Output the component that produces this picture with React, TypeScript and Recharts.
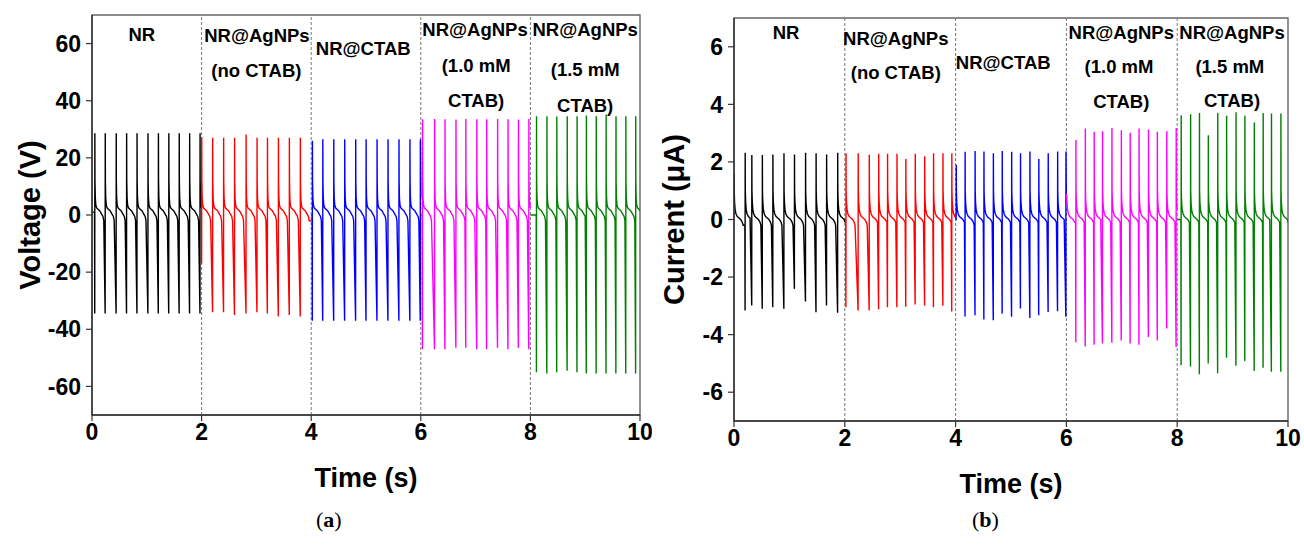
import React from 'react';
import { LineChart, Line, XAxis, YAxis, ReferenceLine, ReferenceArea, ReferenceDot, Label } from 'recharts';

const FONT = '"Liberation Sans", Arial, Helvetica, sans-serif';

const segBounds = [0, 2, 4, 6, 8, 10];
const segColors = ['#000000', '#ff0000', '#0000ff', '#ff00ff', '#008000'];
const timeTicks = [0, 2, 4, 6, 8, 10];
const dividers = [2, 4, 6, 8];

// (a) voltage
const voltTicks = [-60, -40, -20, 0, 20, 40, 60];
const voltStart = [1, 0, 0, 0, 0];
const voltSpikeTimes = [
  [0.05, 0.24, 0.44, 0.63, 0.82, 1.02, 1.21, 1.4, 1.59, 1.78, 1.97],
  [2.0, 2.2, 2.4, 2.6, 2.81, 3.01, 3.2, 3.4, 3.6, 3.8],
  [4.02, 4.21, 4.41, 4.61, 4.81, 5.0, 5.2, 5.4, 5.6, 5.8, 5.99],
  [6.03, 6.25, 6.44, 6.64, 6.82, 7.02, 7.2, 7.4, 7.59, 7.78, 7.97],
  [8.11, 8.3, 8.48, 8.67, 8.85, 9.02, 9.2, 9.38, 9.56, 9.74, 9.92],
];
const voltPeaks = [
  [28.6, 28.6, 28.6, 28.6, 28.6, 28.6, 28.6, 28.6, 28.6, 28.6, 28.6],
  [27.2, 27, 27, 27, 28.2, 27, 27, 27, 27, 27],
  [26, 26.5, 26.5, 26.5, 26.5, 26.5, 26.5, 26.5, 26.5, 26.5, 26.5],
  [33.5, 33.6, 33.5, 33.4, 33.6, 33.5, 33.5, 33.6, 33.5, 33.4, 33.6],
  [34.6, 34.6, 34.5, 34.6, 34.6, 34.8, 34.6, 35.2, 34.6, 34.6, 34.6],
];
const voltTroughs = [
  [-34.5, -34.5, -34.5, -34.5, -34.5, -34.5, -34.5, -34.5, -34.5, -34.5, -34.5],
  [-17, -34, -34, -35, -34.5, -34, -34.5, -35.5, -35, -35.5],
  [-37, -37, -37, -37, -37, -37, -37, -37, -37, -37, -37],
  [-47, -47, -47, -46.5, -46.5, -47, -47, -46.5, -47, -46.5, -47],
  [-55, -55.5, -55, -54.5, -55, -55.5, -55.5, -55.5, -55.5, -55.5, -55.5],
];
const voltTailDt = [0.004, 0.01, 0.02, 0.035, 0.06, 0.09, 0.12, 0.15, 0.165];
const voltTailV = [12, 6, 3.5, 2.5, 2, 1.5, 0.5, -0.5, -2];

// (b) current
const currTicks = [-6, -4, -2, 0, 2, 4, 6];
const currStart = [1.6, 0, 0, 0.9, 0];
const currSpikeTimes = [
  [0.2, 0.32, 0.51, 0.7, 0.9, 1.09, 1.29, 1.48, 1.67, 1.87],
  [2.02, 2.24, 2.44, 2.61, 2.77, 2.94, 3.1, 3.27, 3.44, 3.6, 3.77, 3.93],
  [4.01, 4.17, 4.35, 4.51, 4.68, 4.84, 5.01, 5.17, 5.34, 5.5, 5.67, 5.84, 5.99],
  [6.17, 6.34, 6.5, 6.65, 6.82, 6.99, 7.15, 7.31, 7.48, 7.64, 7.81, 7.98],
  [8.07, 8.24, 8.4, 8.56, 8.73, 8.89, 9.06, 9.22, 9.39, 9.55, 9.7, 9.87],
];
const currPeaks = [
  [2.32, 2.24, 2.24, 2.26, 2.3, 2.26, 2.32, 2.3, 2.26, 2.32],
  [2.3, 2.3, 2.25, 2.28, 2.28, 2.28, 2.1, 2.28, 2.2, 2.3, 2.3, 2.3],
  [1.9, 2.35, 2.38, 2.36, 2.3, 2.38, 2.35, 2.3, 2.36, 2.1, 2.3, 2.36, 2.36],
  [2.76, 3.16, 3.05, 3.07, 3.18, 3.1, 3.01, 3.16, 3.13, 3.05, 3.07, 3.18],
  [3.62, 3.66, 3.7, 2.93, 3.7, 3.6, 3.73, 3.6, 3.37, 3.7, 3.68, 3.68],
];
const currTroughs = [
  [-3.16, -2.99, -3.1, -3.05, -3.1, -2.41, -2.85, -3.22, -2.99, -3.24],
  [-3.05, -3.16, -3.16, -3.12, -3.05, -3.05, -3.03, -2.95, -3.0, -3.05, -3.0, -3.2],
  [0, -3.37, -3.33, -3.47, -3.5, -3.27, -3.38, -3.09, -3.42, -3.33, -3.21, -3.19, -3.38],
  [-4.26, -4.41, -4.35, -4.31, -4.28, -4.2, -4.31, -4.35, -4.08, -4.2, -3.79, -4.43],
  [-5.06, -5.11, -5.38, -5.0, -5.34, -4.8, -5.08, -4.92, -5.26, -5.15, -5.29, -5.29],
];
const currTailDt = [0.004, 0.01, 0.02, 0.035, 0.06, 0.09, 0.12, 0.15, 0.165];
const currTailV = [1.0, 0.6, 0.35, 0.2, 0.1, 0.05, 0, -0.1, -0.2];

const voltNotes = [
  { t: 0.91, v: 63, text: 'NR' },
  { t: 3.01, v: 62.7, text: 'NR@AgNPs' },
  { t: 3.0, v: 50.4, text: '(no CTAB)' },
  { t: 4.95, v: 58.1, text: 'NR@CTAB' },
  { t: 6.99, v: 64.8, text: 'NR@AgNPs' },
  { t: 7.01, v: 52.2, text: '(1.0 mM' },
  { t: 7.01, v: 39.9, text: 'CTAB)' },
  { t: 9.0, v: 64.8, text: 'NR@AgNPs' },
  { t: 9.0, v: 50.8, text: '(1.5 mM' },
  { t: 9.0, v: 38.2, text: 'CTAB)' },
];
const currNotes = [
  { t: 0.94, v: 6.5, text: 'NR' },
  { t: 2.92, v: 6.3, text: 'NR@AgNPs' },
  { t: 2.92, v: 5.1, text: '(no CTAB)' },
  { t: 4.86, v: 5.45, text: 'NR@CTAB' },
  { t: 6.99, v: 6.5, text: 'NR@AgNPs' },
  { t: 6.95, v: 5.3, text: '(1.0 mM' },
  { t: 6.99, v: 4.1, text: 'CTAB)' },
  { t: 8.99, v: 6.5, text: 'NR@AgNPs' },
  { t: 8.95, v: 5.3, text: '(1.5 mM' },
  { t: 8.99, v: 4.15, text: 'CTAB)' },
];

type Pt = { t: number; v: number };

// one coloured segment: start level, then for each pulse trough -> peak -> decay tail
function buildSegment(
  start: number, end: number, startVal: number,
  times: number[], peaks: number[], troughs: number[],
  tailDt: number[], tailV: number[]
): Pt[] {
  const pts: Pt[] = [{ t: start, v: startVal }];
  const first = times.length ? times[0] : end;
  let lead = startVal;
  if (startVal > 0) {
    tailDt.forEach((dt, j) => {
      if (start + dt < first - 0.008 && tailV[j] < startVal) {
        pts.push({ t: start + dt, v: tailV[j] });
        lead = tailV[j];
      }
    });
  }
  if (first - start > 0.012) pts.push({ t: first - 0.004, v: lead });
  times.forEach((t, i) => {
    const next = i < times.length - 1 ? times[i + 1] : end;
    pts.push({ t, v: troughs[i] });
    pts.push({ t: t + 0.002, v: peaks[i] });
    tailDt.forEach((dt, j) => {
      if (t + dt < next - 0.008) pts.push({ t: t + dt, v: tailV[j] });
    });
  });
  const last = times.length ? times[times.length - 1] : start;
  const k = tailDt.findIndex((dt) => dt >= end - last);
  pts.push({ t: end, v: k >= 0 ? tailV[k] : tailV[tailV.length - 1] });
  return pts;
}

const voltSegments = segColors.map((_, i) =>
  buildSegment(segBounds[i], segBounds[i + 1], voltStart[i], voltSpikeTimes[i], voltPeaks[i], voltTroughs[i], voltTailDt, voltTailV)
);
const currSegments = segColors.map((_, i) =>
  buildSegment(segBounds[i], segBounds[i + 1], currStart[i], currSpikeTimes[i], currPeaks[i], currTroughs[i], currTailDt, currTailV)
);

const tickStyle = { fontSize: 23, fontWeight: 'bold' as const, fill: '#000', fontFamily: FONT };
const titleStyle = { fontSize: 27, fontWeight: 'bold' as const, fill: '#000', fontFamily: FONT, textAnchor: 'middle' as const };
const yTitleStyle = { ...titleStyle, fontSize: 29 };

const NoteText = (text: string) => (p: any) => (
  <text
    x={p.cx}
    y={p.cy}
    dy="0.35em"
    textAnchor="middle"
    fontFamily={FONT}
    fontWeight="bold"
    fontSize={18.5}
    fill="#000"
  >
    {text}
  </text>
);

interface PanelProps {
  width: number;
  height: number;
  margin: { top: number; right: number; left: number; bottom: number };
  yWidth: number;
  yDomain: [number, number];
  yTicks: number[];
  yLabel: string;
  yLabelOffset: number;
  segments: Pt[][];
  notes: { t: number; v: number; text: string }[];
}

const Panel: React.FC<PanelProps> = ({ width, height, margin, yWidth, yDomain, yTicks, yLabel, yLabelOffset, segments, notes }) => {
  return (
    <LineChart width={width} height={height} margin={margin}>
      <XAxis
        dataKey="t"
        type="number"
        domain={[0, 10]}
        ticks={timeTicks}
        interval={0}
        allowDataOverflow
        height={82}
        tickSize={6}
        tickMargin={3}
        tick={tickStyle}
        axisLine={{ stroke: '#333', strokeWidth: 1.5 }}
        tickLine={{ stroke: '#333', strokeWidth: 1.2 }}
      >
        <Label value="Time (s)" position="insideBottom" offset={10} style={titleStyle} />
      </XAxis>
      <YAxis
        type="number"
        domain={yDomain}
        ticks={yTicks}
        interval={0}
        allowDataOverflow
        width={yWidth}
        tickSize={6}
        tickMargin={5}
        tick={tickStyle}
        axisLine={{ stroke: '#333', strokeWidth: 1.5 }}
        tickLine={{ stroke: '#333', strokeWidth: 1.2 }}
      >
        <Label value={yLabel} angle={-90} position="insideLeft" offset={yLabelOffset} style={yTitleStyle} />
      </YAxis>
      <ReferenceArea x1={0} x2={10} y1={yDomain[0]} y2={yDomain[1]} fill="none" fillOpacity={0} stroke="#666" strokeWidth={1.4} />
      {dividers.map((x) => (
        <ReferenceLine key={x} x={x} stroke="#777" strokeDasharray="3 2" strokeWidth={1} />
      ))}
      {segments.map((seg, i) => (
        <Line
          key={i}
          data={seg}
          dataKey="v"
          type="linear"
          stroke={segColors[i]}
          strokeWidth={1.4}
          dot={false}
          activeDot={false}
          isAnimationActive={false}
        />
      ))}
      {notes.map((n, i) => (
        <ReferenceDot key={i} x={n.t} y={n.v} r={0} shape={NoteText(n.text)} />
      ))}
    </LineChart>
  );
};

const Caption: React.FC<{ letter: string; left: number }> = ({ letter, left }) => (
  <div
    style={{
      position: 'absolute',
      left,
      top: 507,
      fontFamily: '"Liberation Serif", "Times New Roman", serif',
      fontSize: 22,
      color: '#000',
    }}
  >
    (<b>{letter}</b>)
  </div>
);

export default function App() {
  return (
    <div style={{ position: 'absolute', left: 0, top: 0, width: 1304, height: 545, background: '#fff', overflow: 'hidden' }}>
      <div style={{ position: 'absolute', left: 0, top: 0 }}>
        <Panel
          width={652}
          height={497}
          margin={{ top: 15, right: 12, left: 0, bottom: 0 }}
          yWidth={92}
          yDomain={[-70, 70]}
          yTicks={voltTicks}
          yLabel="Voltage (V)"
          yLabelOffset={30}
          segments={voltSegments}
          notes={voltNotes}
        />
      </div>
      <div style={{ position: 'absolute', left: 652, top: 0 }}>
        <Panel
          width={652}
          height={503}
          margin={{ top: 18, right: 16, left: 0, bottom: 0 }}
          yWidth={82}
          yDomain={[-7, 7]}
          yTicks={currTicks}
          yLabel="Current (μA)"
          yLabelOffset={22}
          segments={currSegments}
          notes={currNotes}
        />
      </div>
      <Caption letter="a" left={316} />
      <Caption letter="b" left={972} />
    </div>
  );
}
